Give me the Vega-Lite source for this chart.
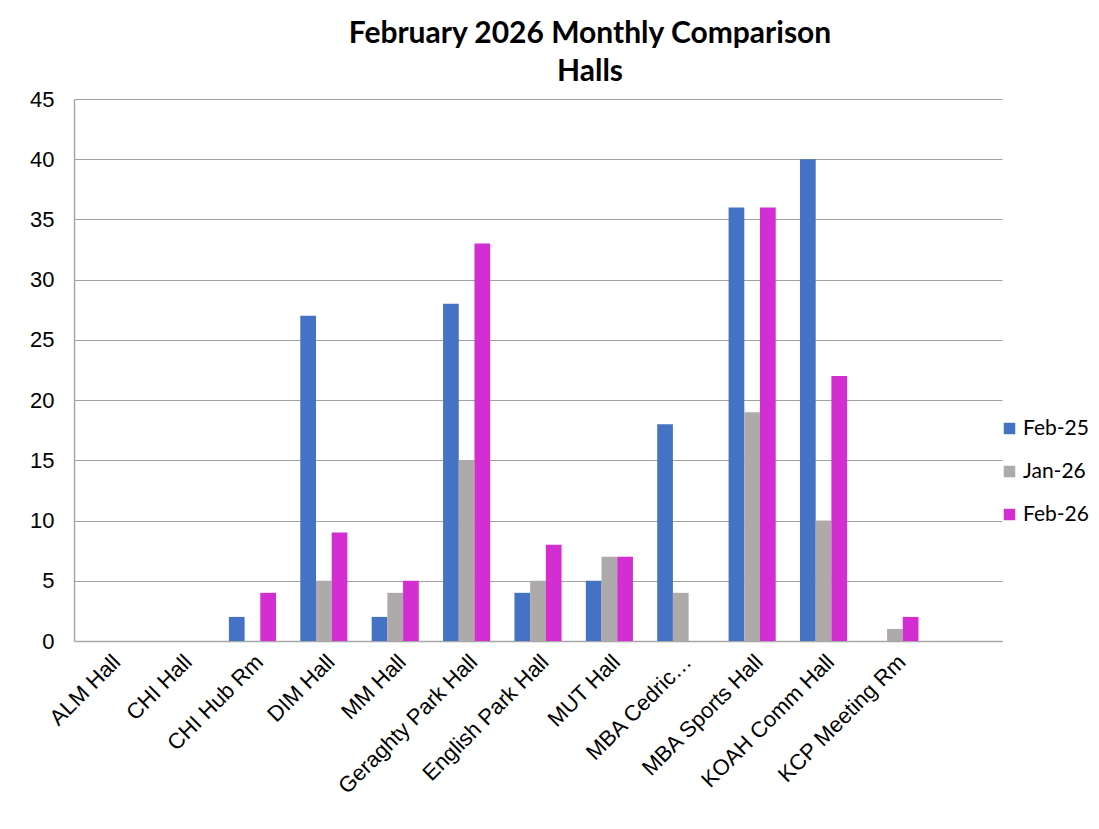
{
  "$schema": "https://vega.github.io/schema/vega-lite/v6.json",
  "width": 928,
  "height": 542,
  "autosize": {"type": "none"},
  "padding": {"left": 74, "top": 99, "right": 97, "bottom": 188},
  "background": "white",
  "title": {
    "text": ["February 2026 Monthly Comparison", "Halls"],
    "font": "Lato",
    "fontWeight": "bold",
    "fontSize": 30,
    "color": "black",
    "anchor": "middle",
    "dx": 52,
    "offset": 1,
    "lineHeight": 38
  },
  "data": {
    "values": [
      {"hall": "ALM Hall", "period": "Feb-25", "value": 0},
      {"hall": "ALM Hall", "period": "Jan-26", "value": 0},
      {"hall": "ALM Hall", "period": "Feb-26", "value": 0},
      {"hall": "CHI Hall", "period": "Feb-25", "value": 0},
      {"hall": "CHI Hall", "period": "Jan-26", "value": 0},
      {"hall": "CHI Hall", "period": "Feb-26", "value": 0},
      {"hall": "CHI Hub Rm", "period": "Feb-25", "value": 2},
      {"hall": "CHI Hub Rm", "period": "Jan-26", "value": 0},
      {"hall": "CHI Hub Rm", "period": "Feb-26", "value": 4},
      {"hall": "DIM Hall", "period": "Feb-25", "value": 27},
      {"hall": "DIM Hall", "period": "Jan-26", "value": 5},
      {"hall": "DIM Hall", "period": "Feb-26", "value": 9},
      {"hall": "MM Hall", "period": "Feb-25", "value": 2},
      {"hall": "MM Hall", "period": "Jan-26", "value": 4},
      {"hall": "MM Hall", "period": "Feb-26", "value": 5},
      {"hall": "Geraghty Park Hall", "period": "Feb-25", "value": 28},
      {"hall": "Geraghty Park Hall", "period": "Jan-26", "value": 15},
      {"hall": "Geraghty Park Hall", "period": "Feb-26", "value": 33},
      {"hall": "English Park Hall", "period": "Feb-25", "value": 4},
      {"hall": "English Park Hall", "period": "Jan-26", "value": 5},
      {"hall": "English Park Hall", "period": "Feb-26", "value": 8},
      {"hall": "MUT Hall", "period": "Feb-25", "value": 5},
      {"hall": "MUT Hall", "period": "Jan-26", "value": 7},
      {"hall": "MUT Hall", "period": "Feb-26", "value": 7},
      {"hall": "MBA Cedric…", "period": "Feb-25", "value": 18},
      {"hall": "MBA Cedric…", "period": "Jan-26", "value": 4},
      {"hall": "MBA Cedric…", "period": "Feb-26", "value": 0},
      {"hall": "MBA Sports Hall", "period": "Feb-25", "value": 36},
      {"hall": "MBA Sports Hall", "period": "Jan-26", "value": 19},
      {"hall": "MBA Sports Hall", "period": "Feb-26", "value": 36},
      {"hall": "KOAH Comm Hall", "period": "Feb-25", "value": 40},
      {"hall": "KOAH Comm Hall", "period": "Jan-26", "value": 10},
      {"hall": "KOAH Comm Hall", "period": "Feb-26", "value": 22},
      {"hall": "KCP Meeting Rm", "period": "Feb-25", "value": 0},
      {"hall": "KCP Meeting Rm", "period": "Jan-26", "value": 1},
      {"hall": "KCP Meeting Rm", "period": "Feb-26", "value": 2}
    ]
  },
  "mark": {"type": "bar"},
  "encoding": {
    "x": {
      "field": "hall",
      "type": "nominal",
      "scale": {
        "domain": ["ALM Hall", "CHI Hall", "CHI Hub Rm", "DIM Hall", "MM Hall", "Geraghty Park Hall", "English Park Hall", "MUT Hall", "MBA Cedric…", "MBA Sports Hall", "KOAH Comm Hall", "KCP Meeting Rm", " "],
        "paddingInner": 0.34,
        "paddingOuter": 0.17
      },
      "axis": {
        "title": null,
        "labelAngle": -45,
        "labelFont": "Liberation Sans",
        "labelFontSize": 22,
        "labelColor": "black",
        "labelPadding": 10,
        "labelDx": -8,
        "labelLimit": 0,
        "ticks": false,
        "domainColor": "#A6A6A6",
        "domainWidth": 1.5
      }
    },
    "xOffset": {
      "field": "period",
      "type": "nominal",
      "scale": {"domain": ["Feb-25", "Jan-26", "Feb-26"]}
    },
    "y": {
      "field": "value",
      "type": "quantitative",
      "scale": {"domain": [0, 45]},
      "axis": {
        "title": null,
        "values": [0, 5, 10, 15, 20, 25, 30, 35, 40, 45],
        "labelFont": "Liberation Sans",
        "labelFontSize": 22,
        "labelColor": "black",
        "labelPadding": 20,
        "ticks": false,
        "domainColor": "#A6A6A6",
        "domainWidth": 1.5,
        "gridColor": "#A0A0A0",
        "gridWidth": 1.2
      }
    },
    "color": {
      "field": "period",
      "type": "nominal",
      "scale": {
        "domain": ["Feb-25", "Jan-26", "Feb-26"],
        "range": ["#4472C4", "#AEAAAA", "#D22ED2"]
      },
      "legend": {
        "title": null,
        "orient": "none",
        "legendX": 925,
        "legendY": 319,
        "padding": 0,
        "symbolType": "square",
        "symbolSize": 132,
        "symbolStrokeWidth": 0,
        "labelFont": "Lato",
        "labelFontSize": 21,
        "labelColor": "black",
        "labelOffset": 3,
        "rowPadding": 21
      }
    }
  },
  "config": {"view": {"stroke": null}}
}
